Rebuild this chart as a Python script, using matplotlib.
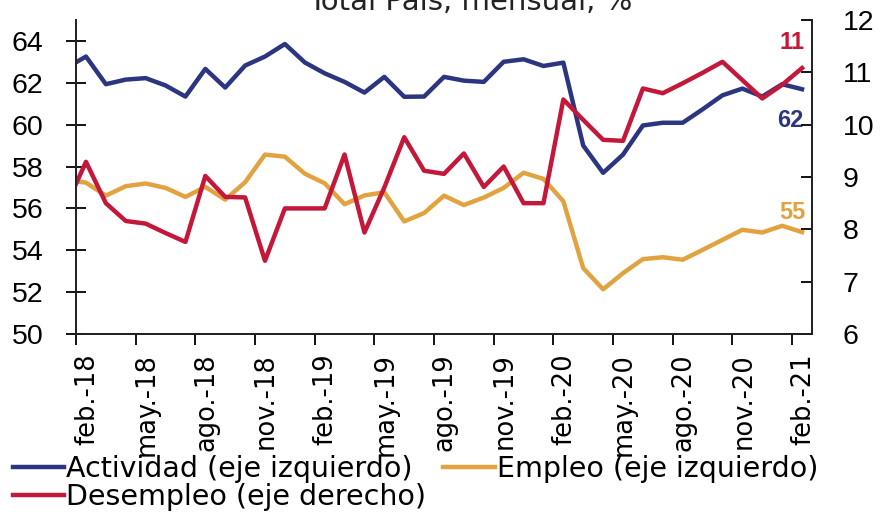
import matplotlib
matplotlib.use("Agg")
import matplotlib.pyplot as plt
import numpy as np

plt.rcParams['font.family'] = ['Liberation Sans', 'DejaVu Sans']

# ene-18 .. feb-21 (ene-18 queda cortado por el eje)
actividad = [62.7, 63.25, 61.93, 62.15, 62.22, 61.87, 61.34, 62.66, 61.77, 62.82,
             63.25, 63.85, 62.97, 62.45, 62.04, 61.53, 62.28, 61.33, 61.34, 62.28,
             62.1, 62.04, 63.0, 63.12, 62.8, 62.96, 59.0, 57.7, 58.57, 59.96,
             60.09, 60.09, 60.73, 61.4, 61.72, 61.34, 61.93, 61.69]
empleo = [57.35, 57.23, 56.61, 57.06, 57.19, 56.98, 56.55, 57.03, 56.42, 57.25,
          58.57, 58.47, 57.66, 57.2, 56.2, 56.62, 56.77, 55.38, 55.78, 56.61,
          56.16, 56.52, 56.98, 57.7, 57.41, 56.34, 53.15, 52.14, 52.91, 53.58,
          53.67, 53.55, 54.02, 54.5, 54.98, 54.85, 55.17, 54.87]
desempleo = [8.45, 9.29, 8.50, 8.16, 8.11, 7.93, 7.76, 9.02, 8.62, 8.61,
             7.40, 8.40, 8.40, 8.40, 9.43, 7.94, 8.8, 9.76, 9.12, 9.06,
             9.45, 8.81, 9.2, 8.5, 8.5, 10.48, 10.09, 9.71, 9.69, 10.69,
             10.6, 10.79, 10.99, 11.2, 10.85, 10.5, 10.76, 11.08]
tick_labels = ['feb.-18', 'may.-18', 'ago.-18', 'nov.-18', 'feb.-19', 'may.-19',
               'ago.-19', 'nov.-19', 'feb.-20', 'may.-20', 'ago.-20', 'nov.-20',
               'feb.-21']

azul = '#2b3580'
naranja = '#e0a340'
rojo = '#c4183a'

x = np.arange(len(actividad)) - 0.5

fig = plt.figure(figsize=(8.82, 5.18), dpi=100)
ax = fig.add_axes([0.0862, 0.355, 0.8344, 0.6066])
ax2 = ax.twinx()

l1, = ax.plot(x, actividad, color=azul, lw=3.2, label='Actividad (eje izquierdo)')
l2, = ax.plot(x, empleo, color=naranja, lw=3.2, label='Empleo (eje izquierdo)')
l3, = ax2.plot(x, desempleo, color=rojo, lw=3.2, label='Desempleo (eje derecho)')

ax.set_xlim(0, 37)
ax.set_ylim(50, 65)
ax2.set_ylim(6, 12)
ax.set_yticks(np.arange(50, 65, 2))
ax2.set_yticks(np.arange(6, 13, 1))

# marcas en el borde del mes, etiquetas algo desplazadas a la derecha
ax.set_xticks(np.arange(0, 37, 3))
ax.set_xticklabels([])
ax.set_xticks(np.arange(0, 37, 3) + 0.55, minor=True)
ax.set_xticklabels(tick_labels, minor=True, rotation=90, family='DejaVu Sans',
                   fontsize=18.5)

for a in (ax, ax2):
    a.spines['top'].set_visible(False)
    for s in a.spines.values():
        s.set_linewidth(1.3)
        s.set_color('#222222')
ax.tick_params(axis='y', direction='inout', length=15, width=1.3, labelsize=20.5, pad=16)
ax.tick_params(axis='x', which='major', direction='out', length=8, width=1.3)
ax.tick_params(axis='x', which='minor', length=0, pad=14)
ax2.tick_params(axis='y', direction='in', length=8, width=1.3, labelsize=20.5, pad=22)

ax2.text(35.98, 11.56, '11', color=rojo, fontsize=17, fontweight='bold', ha='center', va='center')
ax.text(35.93, 60.2, '62', color=azul, fontsize=17, fontweight='bold', ha='center', va='center')
ax.text(36.03, 55.8, '55', color=naranja, fontsize=17, fontweight='bold', ha='center', va='center')

fig.text(470 / 882, 1 - 10 / 518, 'Total País, mensual, %', fontsize=21, ha='center',
         va='baseline', color='#222222', family='DejaVu Sans')

fig.legend(handles=[l1, l3, l2], loc='upper left', bbox_to_anchor=(13 / 882, 1 - 455 / 518),
           ncol=2, frameon=False, prop={'family': 'DejaVu Sans', 'size': 20.5},
           handlelength=1.8, handletextpad=0.07, labelspacing=0.0,
           columnspacing=0.6, borderaxespad=0, borderpad=0)

plt.savefig('out.png', dpi=100)
